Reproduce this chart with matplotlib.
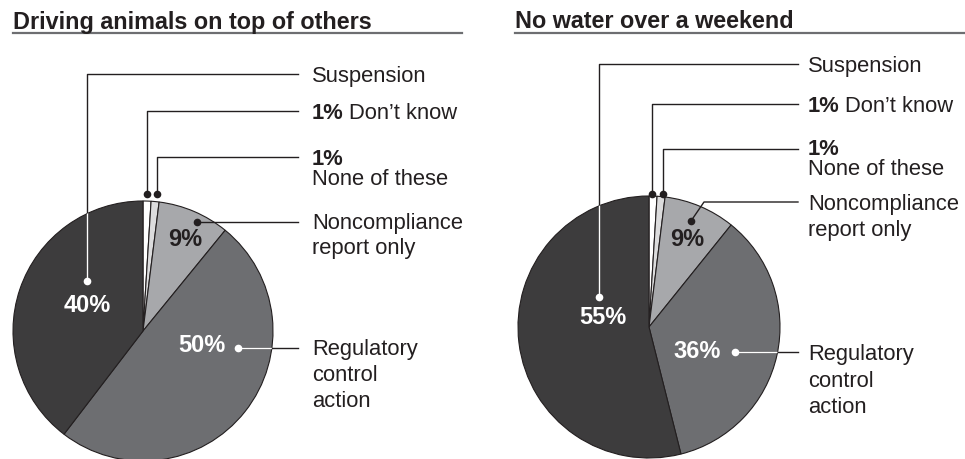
import matplotlib
matplotlib.use("Agg")
import matplotlib.pyplot as plt
from matplotlib.lines import Line2D

plt.rcParams['font.family'] = ['Liberation Sans', 'DejaVu Sans']

# ---------------- data ----------------
categories = ["Don't know", "None of these", "Noncompliance report only",
              "Regulatory control action", "Suspension"]
titles = ["Driving animals on top of others", "No water over a weekend"]
left_values = [1, 1, 9, 50, 40]
right_values = [1, 1, 9, 36, 55]
slice_colors = ["#ffffff", "#dcdcdd", "#a7a8ab", "#6d6e71", "#3d3c3d"]

W, H = 965, 460
INK = "#231f20"

fig = plt.figure(figsize=(W / 100, H / 100), dpi=100)
ax = fig.add_axes([0, 0, 1, 1])

def Y(t):
    return H - t

def set_limits():
    ax.set_xlim(0, W)
    ax.set_ylim(0, H)
    ax.set_aspect("auto")

# ---------------- layout (pixel coords, y from top) ----------------
panels = [
    dict(values=left_values, title=titles[0], title_x=13, rule=(13, 462),
         center=(143, 332), radius=130, line_end=298, text_x=312,
         leaders=[
             dict(i=4, pts=[(87, 282), (87, 75)], y=75, lines=[("", "Suspension", 82)]),
             dict(i=0, pts=[(147, 195), (147, 112)], y=112, lines=[("pct", "Don\u2019t know", 119)]),
             dict(i=1, pts=[(157, 195), (157, 158)], y=158, lines=[("pct", "", 165), ("", "None of these", 185)]),
             dict(i=2, pts=[(197, 223)], y=223, lines=[("", "Noncompliance", 229), ("", "report only", 254)]),
             dict(i=3, pts=[(238, 349)], y=349, lines=[("", "Regulatory", 355), ("", "control", 381), ("", "action", 407)]),
         ],
         pct_pos={4: (87, 305), 3: (202, 346), 2: (185, 240)}),
    dict(values=right_values, title=titles[1], title_x=515, rule=(515, 965),
         center=(649, 328), radius=131, line_end=798, text_x=808,
         leaders=[
             dict(i=4, pts=[(599, 298), (599, 65)], y=65, lines=[("", "Suspension", 72)]),
             dict(i=0, pts=[(652, 195), (652, 105)], y=105, lines=[("pct", "Don\u2019t know", 112)]),
             dict(i=1, pts=[(663, 195), (663, 150)], y=150, lines=[("pct", "", 155), ("", "None of these", 175)]),
             dict(i=2, pts=[(691, 222), (704, 203)], y=203, lines=[("", "Noncompliance", 210), ("", "report only", 236)]),
             dict(i=3, pts=[(735, 353)], y=353, lines=[("", "Regulatory", 360), ("", "control", 387), ("", "action", 413)]),
         ],
         pct_pos={4: (603, 318), 3: (697, 352), 2: (687, 240)}),
]

LABEL_FS = 15.8
PCT_FS = 17
dark = {3, 4}

set_limits()
fig.canvas.draw()
renderer = fig.canvas.get_renderer()

for p in panels:
    vals = p["values"]
    cx, cy = p["center"]
    wedges, _ = ax.pie(vals, colors=slice_colors, startangle=90, counterclock=False,
                       center=(cx, Y(cy)), radius=p["radius"],
                       wedgeprops=dict(edgecolor=INK, linewidth=0.8))
    set_limits()

    # title + rule
    ax.text(p["title_x"], Y(28.5), p["title"], fontsize=16.8, fontweight="bold",
            color=INK, ha="left", va="baseline")
    x0, x1 = p["rule"]
    ax.add_line(Line2D([x0, x1], [Y(33.5), Y(33.5)], color="#6d6e71", lw=1.6))

    for ld in p["leaders"]:
        i = ld["i"]
        xs = [pt[0] for pt in ld["pts"]] + [p["line_end"]]
        ys = [Y(pt[1]) for pt in ld["pts"]] + [Y(ld["y"])]
        ax.add_line(Line2D(xs, ys, color=INK, lw=1.0, zorder=5))
        inside = "white" if i in dark else INK
        if i in dark:
            wl = Line2D(xs, ys, color="white", lw=1.0, zorder=6)
            ax.add_line(wl)
            wl.set_clip_path(wedges[i])
        ax.plot([xs[0]], [ys[0]], "o", ms=5.5, color=inside, mec="none", zorder=7)

        for kind, txt, base in ld["lines"]:
            x = p["text_x"]
            if kind == "pct":
                t = ax.text(x, Y(base), f"{vals[i]}%", fontsize=LABEL_FS, fontweight="bold",
                            color=INK, ha="left", va="baseline")
                bb = t.get_window_extent(renderer)
                x = ax.transData.inverted().transform((bb.x1, bb.y0))[0] + 5
            if txt:
                ax.text(x, Y(base), txt, fontsize=LABEL_FS, color=INK,
                        ha="left", va="baseline")

    for i, (px, py) in p["pct_pos"].items():
        ax.text(px, Y(py), f"{vals[i]}%", fontsize=PCT_FS, fontweight="bold",
                color="white" if i in dark else INK, ha="center", va="center", zorder=8)

set_limits()
ax.axis("off")

fig.savefig("out.png", dpi=100)
